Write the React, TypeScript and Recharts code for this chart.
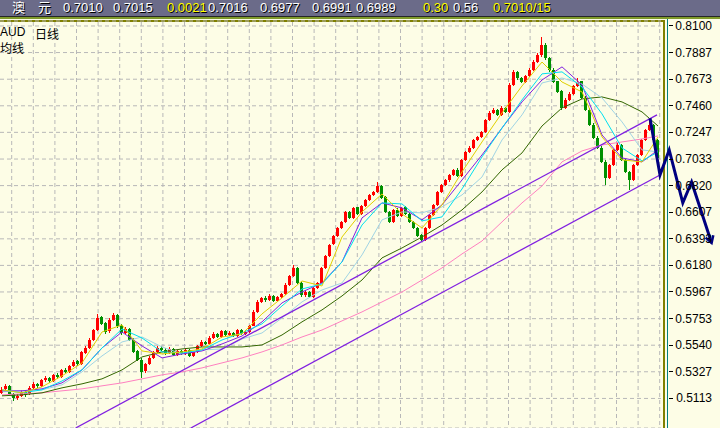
import React from "react";
import { ComposedChart, Bar, Line, XAxis, YAxis, CartesianGrid } from "recharts";

// daily AUD candles in pips: [open, high, low, close]
const candles: [number, number, number, number][] = [
  [5160, 5205, 5150, 5181], [5185, 5230, 5170, 5213], [5210, 5220, 5140, 5149], [5150, 5160, 5095, 5117],
  [5115, 5150, 5100, 5133], [5135, 5180, 5125, 5165], [5168, 5175, 5128, 5141], [5145, 5210, 5138, 5197],
  [5195, 5245, 5185, 5229], [5232, 5240, 5200, 5213], [5210, 5270, 5205, 5261], [5258, 5290, 5245, 5277],
  [5280, 5288, 5240, 5253], [5250, 5310, 5245, 5301], [5305, 5318, 5270, 5285], [5288, 5350, 5280, 5342],
  [5345, 5356, 5315, 5326], [5322, 5385, 5318, 5374], [5370, 5420, 5362, 5406], [5410, 5418, 5375, 5390],
  [5392, 5495, 5385, 5486], [5480, 5530, 5470, 5518], [5515, 5595, 5508, 5582], [5585, 5670, 5575, 5662],
  [5660, 5790, 5650, 5759], [5765, 5775, 5700, 5711], [5715, 5725, 5630, 5646], [5650, 5760, 5640, 5743],
  [5740, 5800, 5735, 5783], [5780, 5790, 5680, 5694], [5698, 5710, 5625, 5638], [5640, 5685, 5630, 5670],
  [5668, 5675, 5570, 5582], [5585, 5595, 5475, 5486], [5490, 5500, 5410, 5422], [5425, 5435, 5275, 5326],
  [5330, 5400, 5320, 5390], [5388, 5450, 5380, 5438], [5440, 5495, 5430, 5486], [5485, 5530, 5475, 5518],
  [5520, 5535, 5490, 5502], [5505, 5515, 5465, 5478], [5475, 5525, 5468, 5510], [5512, 5520, 5450, 5462],
  [5460, 5505, 5452, 5494], [5495, 5502, 5460, 5470], [5468, 5515, 5462, 5502], [5505, 5512, 5445, 5454],
  [5452, 5495, 5448, 5486], [5488, 5545, 5480, 5534], [5530, 5578, 5522, 5566], [5568, 5575, 5540, 5550],
  [5548, 5610, 5542, 5598], [5600, 5642, 5592, 5630], [5632, 5640, 5598, 5606], [5604, 5665, 5600, 5654],
  [5656, 5662, 5615, 5622], [5620, 5650, 5612, 5638], [5640, 5648, 5605, 5614], [5612, 5672, 5608, 5662],
  [5665, 5670, 5622, 5630], [5628, 5660, 5620, 5646], [5645, 5705, 5640, 5694], [5698, 5820, 5690, 5807],
  [5805, 5900, 5798, 5887], [5885, 5930, 5875, 5919], [5920, 5932, 5890, 5903], [5900, 5948, 5895, 5935],
  [5938, 5945, 5885, 5895], [5892, 5938, 5888, 5927], [5925, 5962, 5915, 5951], [5950, 6035, 5945, 6023],
  [6020, 6105, 6012, 6095], [6098, 6185, 6090, 6160], [6162, 6170, 6030, 6039], [6042, 6050, 5930, 5943],
  [5940, 5980, 5930, 5967], [5970, 5978, 5915, 5927], [5925, 6010, 5920, 5999], [6000, 6050, 5992, 6039],
  [6040, 6170, 6035, 6160], [6158, 6265, 6150, 6256], [6255, 6355, 6245, 6344], [6348, 6425, 6340, 6416],
  [6412, 6490, 6405, 6480], [6482, 6540, 6472, 6528], [6530, 6620, 6522, 6609], [6612, 6620, 6552, 6561],
  [6558, 6650, 6550, 6641], [6645, 6652, 6585, 6593], [6590, 6668, 6582, 6657], [6660, 6715, 6650, 6705],
  [6702, 6755, 6695, 6745], [6748, 6780, 6738, 6769], [6772, 6850, 6762, 6817], [6815, 6825, 6710, 6721],
  [6725, 6735, 6600, 6609], [6612, 6620, 6520, 6528], [6525, 6635, 6518, 6625], [6628, 6640, 6568, 6577],
  [6575, 6652, 6570, 6641], [6645, 6655, 6585, 6593], [6595, 6602, 6520, 6528], [6530, 6540, 6470, 6480],
  [6482, 6490, 6405, 6416], [6420, 6432, 6368, 6384], [6385, 6490, 6378, 6480], [6478, 6595, 6470, 6585],
  [6588, 6675, 6580, 6665], [6668, 6780, 6660, 6769], [6770, 6835, 6760, 6825], [6828, 6875, 6815, 6865],
  [6862, 6915, 6852, 6905], [6908, 6955, 6898, 6945], [6948, 6958, 6885, 6897], [6895, 7035, 6888, 7026],
  [7025, 7100, 7015, 7090], [7092, 7135, 7080, 7122], [7120, 7195, 7110, 7186], [7188, 7220, 7175, 7210],
  [7212, 7260, 7200, 7250], [7252, 7355, 7245, 7347], [7350, 7415, 7340, 7403], [7405, 7440, 7395, 7427],
  [7430, 7438, 7375, 7387], [7385, 7455, 7378, 7443], [7445, 7452, 7400, 7411], [7410, 7640, 7402, 7627],
  [7630, 7745, 7620, 7731], [7735, 7742, 7670, 7683], [7685, 7692, 7640, 7651], [7648, 7710, 7640, 7699],
  [7702, 7760, 7690, 7747], [7745, 7825, 7738, 7811], [7815, 7880, 7805, 7867], [7865, 8010, 7855, 7948],
  [7950, 7962, 7830, 7843], [7845, 7855, 7735, 7747], [7750, 7760, 7640, 7651], [7655, 7662, 7560, 7571],
  [7575, 7585, 7430, 7443], [7440, 7520, 7432, 7507], [7505, 7568, 7498, 7555], [7552, 7630, 7545, 7619],
  [7620, 7680, 7612, 7651], [7655, 7662, 7515, 7523], [7525, 7535, 7418, 7427], [7430, 7440, 7295, 7306],
  [7308, 7318, 7190, 7202], [7205, 7215, 7110, 7122], [7125, 7135, 7000, 7010], [7012, 7025, 6825, 6881],
  [6880, 6995, 6870, 6986], [6985, 7115, 6975, 7106], [7108, 7160, 7098, 7146], [7148, 7155, 7015, 7026],
  [7028, 7035, 6920, 6929], [6930, 6940, 6785, 6865], [6862, 6995, 6855, 6986], [6988, 7075, 6978, 7066],
  [7065, 7195, 7058, 7186], [7188, 7275, 7180, 7266], [7265, 7360, 7255, 7306], [7302, 7312, 7175, 7186],
  [7185, 7195, 7010, 7040],
];

// moving averages read every 5th bar (pips)
const maIndex = [0, 5, 10, 15, 20, 25, 30, 35, 40, 45, 50, 55, 60, 65, 70, 75, 80, 85, 90, 95, 100, 105, 110, 115, 120, 125, 130, 135, 140, 145, 150, 155, 160, 164];
const maYellow = [5182, 5158, 5206, 5294, 5398, 5646, 5703, 5494, 5470, 5486, 5510, 5606, 5630, 5791, 5919, 6055, 6015, 6408, 6609, 6753, 6593, 6480, 6665, 6930, 7170, 7403, 7619, 7811, 7651, 7571, 7210, 7026, 7010, 7210];
const maCyan = [5182, 5158, 5182, 5253, 5342, 5518, 5670, 5598, 5486, 5478, 5502, 5582, 5638, 5711, 5855, 5991, 6031, 6208, 6504, 6681, 6673, 6537, 6569, 6793, 7050, 7282, 7507, 7716, 7732, 7611, 7395, 7122, 7018, 7090];
const maPurple = [5174, 5174, 5190, 5238, 5342, 5518, 5646, 5534, 5438, 5470, 5494, 5550, 5614, 5727, 5879, 5967, 6039, 6208, 6561, 6681, 6641, 6545, 6665, 6865, 7066, 7282, 7491, 7667, 7772, 7627, 7226, 7042, 7010, 7106];
const maLightBlue = [5166, 5174, 5182, 5222, 5326, 5454, 5566, 5606, 5526, 5470, 5502, 5510, 5590, 5638, 5759, 5887, 5983, 6039, 6264, 6545, 6609, 6601, 6649, 6745, 6889, 7186, 7387, 7643, 7683, 7635, 7523, 7331, 7106, 7090];
const maGreen = [5134, 5142, 5158, 5198, 5230, 5270, 5342, 5446, 5486, 5510, 5526, 5526, 5526, 5542, 5622, 5727, 5823, 5935, 6063, 6240, 6320, 6408, 6504, 6625, 6769, 6946, 7082, 7298, 7443, 7515, 7531, 7491, 7411, 7298];
const maPink = [5142, 5150, 5158, 5174, 5190, 5214, 5238, 5270, 5302, 5326, 5358, 5398, 5438, 5486, 5542, 5606, 5662, 5735, 5807, 5887, 5967, 6063, 6160, 6272, 6376, 6529, 6681, 6817, 7010, 7098, 7146, 7170, 7194, 7218];

// trend channel and projected path: [bar index, pips]
const upperTrend = [[18.4, 4876], [163.75, 7387]];
const lowerTrend = [[47.2, 4876], [164.5, 6905]];
const projection = [[162, 7360], [164.5, 6905], [166.8, 7106], [170.2, 6681], [172.4, 6849], [177.4, 6360]];

const yTicks = [0.81, 0.7887, 0.7673, 0.746, 0.7247, 0.7033, 0.682, 0.6607, 0.6393, 0.618, 0.5967, 0.5753, 0.554, 0.5327, 0.5113];

const header = [
  { t: "澳", x: 12, c: "#fff" },
  { t: "元", x: 38, c: "#fff" },
  { t: "0.7010", x: 63, c: "#fff" },
  { t: "0.7015", x: 113, c: "#fff" },
  { t: "0.0021", x: 167, c: "#ffff00" },
  { t: "0.7016", x: 208, c: "#fff" },
  { t: "0.6977", x: 260, c: "#fff" },
  { t: "0.6991", x: 312, c: "#fff" },
  { t: "0.6989", x: 356, c: "#fff" },
  { t: "0.30", x: 423, c: "#ffff00" },
  { t: "0.56", x: 453, c: "#fff" },
  { t: "0.7010/15", x: 493, c: "#ffff00" },
];

const table = candles.map(([o, h, l, c], i) => ({ i, o: o / 1e4, h: h / 1e4, l: l / 1e4, c: c / 1e4 }));
const maRows = (vals: number[]) => maIndex.map((i, k) => ({ i, v: vals[k] / 1e4 }));
const pathRows = (pts: number[][]) => pts.map(([i, p]) => ({ i, v: p / 1e4 }));

const FONT = '"Liberation Sans", "Noto Sans CJK SC", sans-serif';

const renderCandle = (props: any) => {
  const { x, y, width, height, payload, index } = props;
  const row = payload ?? table[index];
  if (!row || !Number.isFinite(x) || !Number.isFinite(y)) return <g key={index} />;
  const { o, h, l, c } = row;
  const top = Math.min(y, y + height);
  const hgt = Math.abs(height);
  const k = h - l > 0 ? hgt / (h - l) : 0;
  const yO = top + (h - o) * k;
  const yC = top + (h - c) * k;
  const color = c >= o ? "#ff0000" : "#009000";
  const cx = x + width / 2;
  return (
    <g key={index} shapeRendering="crispEdges">
      <line x1={cx} x2={cx} y1={top} y2={top + hgt} stroke={color} strokeWidth={1} />
      <rect x={cx - 1.5} y={Math.min(yO, yC)} width={3} height={Math.max(1, Math.abs(yO - yC))} fill={color} />
    </g>
  );
};

function AxisTick(props: any) {
  const { x, y, payload } = props;
  return (
    <g>
      <line x1={x - 43} x2={x - 39} y1={y} y2={y} stroke="#000" shapeRendering="crispEdges" />
      <text x={x} y={y} dy={4} textAnchor="end" fontFamily={FONT} fontSize={12} fill="#000">
        {Number(payload.value).toFixed(4)}
      </text>
    </g>
  );
}

function ArrowEnd(props: any) {
  const { cx, cy, index } = props;
  if (index !== projection.length - 1) return <g key={index} />;
  return (
    <path key={index} d={`M${cx + 1.7},${cy - 7.8} L${cx},${cy} L${cx - 5.9},${cy - 5.3}`} stroke="#000080" strokeWidth={2.5} fill="none" />
  );
}

export default function App() {
  const vPoints = Array.from({ length: 31 }, (_, k) => 11.7 + 21.6 * k);
  return (
    <div style={{ position: "relative", width: 720, height: 428, background: "#fdfde6", overflow: "hidden", fontFamily: FONT }}>
      <style>{"body{margin:0}"}</style>
      <div style={{ position: "absolute", left: 0, top: 0, width: 720, height: 16, background: "#6b6b89" }} />
      <div style={{ position: "absolute", left: 0, top: 16, width: 720, height: 1, background: "#262626" }} />
      <div style={{ position: "absolute", left: 0, top: 17, width: 720, height: 2, background: "#7f9a2a" }} />
      {header.map((h) => (
        <span key={h.x} style={{ position: "absolute", left: h.x, top: 0, fontSize: 13, lineHeight: "16px", color: h.c, textShadow: "1px 1px 0 #000", whiteSpace: "nowrap" }}>
          {h.t}
        </span>
      ))}
      <div style={{ position: "absolute", left: 0, top: 20, width: 665, height: 2, background: "#808000" }} />
      <div style={{ position: "absolute", left: 663, top: 20, width: 2, height: 408, background: "#808000" }} />
      <div style={{ position: "absolute", left: 667, top: 19, width: 1, height: 409, background: "#008080" }} />
      <div style={{ position: "absolute", left: 0, top: 0 }}>
        <ComposedChart width={720} height={428} data={table} margin={{ top: 21, right: 0, bottom: 0, left: 0 }}>
          <CartesianGrid x={0} y={22} width={661} height={406} verticalPoints={vPoints} stroke="#b8b8b8" strokeDasharray="4 3" />
          <XAxis dataKey="i" type="number" domain={[-0.5, 179.5]} allowDataOverflow hide />
          <YAxis
            orientation="right"
            mirror
            width={1}
            domain={[0.4876, 0.814]}
            allowDataOverflow
            ticks={yTicks}
            interval={0}
            tickSize={0}
            tickMargin={8}
            axisLine={false}
            tickLine={false}
            tick={AxisTick}
          />
          <Line data={maRows(maPink)} dataKey="v" stroke="#ff80c0" dot={false} isAnimationActive={false} />
          <Line data={maRows(maGreen)} dataKey="v" stroke="#336600" dot={false} isAnimationActive={false} />
          <Line data={maRows(maLightBlue)} dataKey="v" stroke="#a0d4e4" dot={false} isAnimationActive={false} />
          <Line data={pathRows(upperTrend)} dataKey="v" stroke="#8020e0" strokeWidth={1.3} dot={false} isAnimationActive={false} />
          <Line data={pathRows(lowerTrend)} dataKey="v" stroke="#8020e0" strokeWidth={1.3} dot={false} isAnimationActive={false} />
          <Bar dataKey={(d: any) => [d.l, d.h]} barSize={3} fill="#ff0000" shape={renderCandle} isAnimationActive={false} />
          <Line data={maRows(maPurple)} dataKey="v" stroke="#8020e0" dot={false} isAnimationActive={false} />
          <Line data={maRows(maCyan)} dataKey="v" stroke="#00e0f0" dot={false} isAnimationActive={false} />
          <Line data={maRows(maYellow)} dataKey="v" stroke="#e0d000" dot={false} isAnimationActive={false} />
          <Line data={pathRows(projection)} dataKey="v" stroke="#000080" strokeWidth={3} dot={ArrowEnd} isAnimationActive={false} />
        </ComposedChart>
      </div>
      <span style={{ position: "absolute", left: 0, top: 25, fontSize: 12, color: "#000" }}>AUD</span>
      <span style={{ position: "absolute", left: 35, top: 25, fontSize: 12, color: "#000" }}>日线</span>
      <span style={{ position: "absolute", left: 0, top: 39, fontSize: 12, color: "#000" }}>均线</span>
    </div>
  );
}
